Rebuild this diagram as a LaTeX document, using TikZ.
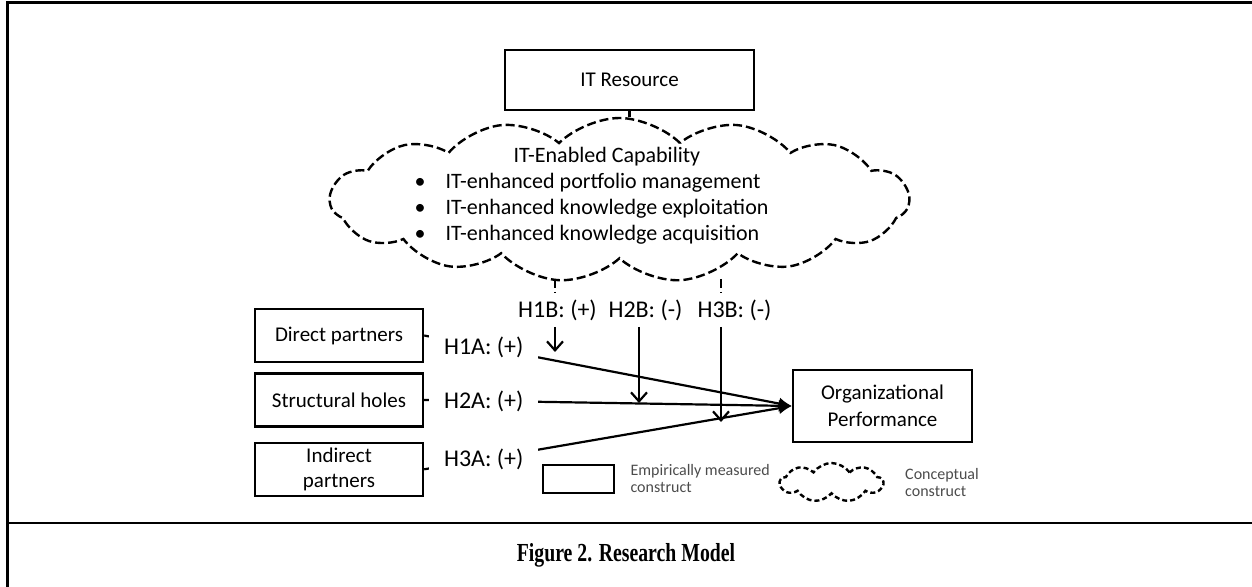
\documentclass[tikz,border=0pt]{standalone}
\usepackage{fontspec}
\setmainfont{Carlito}
\newfontfamily\captionserif[FakeStretch=0.76]{Liberation Serif}
\usepackage{tikz}
\usetikzlibrary{shapes.symbols, arrows.meta, positioning}
\tikzset{
    construct/.style={rectangle, draw, line width=1.2pt, minimum width=84pt, minimum height=26.5pt, inner sep=1pt, align=center, font=\fontsize{10.5}{12.5}\selectfont},
    concept/.style={cloud, draw, line width=1.2pt, dash pattern=on 4.5pt off 2pt, cloud puffs=15, cloud puff arc=90, aspect=3.5},
    hyp/.style={fill=white, inner xsep=2pt, inner ysep=3pt, font=\fontsize{12}{14}\selectfont},
    legendtext/.style={inner sep=0pt, align=left, text=black!70, font=\fontsize{8}{8.5}\selectfont}
}

\begin{document}
\begin{tikzpicture}[
    x=0.5pt, y=-0.5pt,
    arrow/.style={-{Latex[length=6.5pt, width=6pt]}, line width=1.1pt},
    modarrow/.style={-{Straight Barb[length=4.5pt, width=8pt]}, line width=1.1pt},
    dashedline/.style={line width=1.2pt, dash pattern=on 4.5pt off 2pt}
]
    \useasboundingbox (0,0) rectangle (1252,587);

    % Frame
    \draw[line width=1.5pt] (1252,3) -- (7,3) -- (7,587);
    \draw[line width=1.1pt] (7,523) -- (1252,523);

    % Resource and capability
    \node[construct, minimum width=124.5pt, minimum height=30pt] (itres) at (629.5,80) {IT Resource};
    \node[concept, minimum width=289.5pt, minimum height=82pt] (itcap) at (619.5,200) {};
    \node[inner sep=0pt, font=\fontsize{11}{13}\selectfont] (captext) at (591.5,196) {%
        \begin{tabular}{@{}l@{\hspace{10pt}}l@{}}
            & \multicolumn{1}{c}{IT-Enabled Capability}\\
            \textbullet & IT-enhanced portfolio management\\
            \textbullet & IT-enhanced knowledge exploitation\\
            \textbullet & IT-enhanced knowledge acquisition
        \end{tabular}};
    \draw[line width=1.2pt] (itres.south) -- (itres.south |- itcap.north);

    % Network positions
    \node[construct] (direct) at (339,335.5) {Direct partners};
    \node[construct, below=4.5pt of direct] (holes) {Structural holes};
    \node[construct, below=7pt of holes] (indirect) {Indirect\\partners};

    % Outcome
    \node[construct, minimum width=89.5pt, minimum height=36pt, font=\fontsize{10.5}{13.5}\selectfont] (perf) at (882.5,406) {Organizational\\Performance};

    % Main effects
    \draw[arrow] (direct.east) -- (perf.west) node[hyp, inner xsep=7.5pt, pos=0.162] (h1a) {H1A: (+)};
    \draw[arrow] (holes.east) -- (perf.west) node[hyp, inner xsep=7.5pt, pos=0.162] (h2a) {H2A: (+)};
    \draw[arrow] (indirect.east) -- (perf.west) node[hyp, inner xsep=7.5pt, pos=0.162] (h3a) {H3A: (+)};

    % Moderating effects
    \node[hyp] (h1b) at (557.5,310) {H1B: (+)};
    \node[hyp] (h2b) at (645.5,310) {H2B: (-)};
    \node[hyp] (h3b) at (734.5,310) {H3B: (-)};
    \coordinate (c1) at (555,279);
    \coordinate (c3) at (721,279);
    \coordinate (m1) at (555,352);
    \coordinate (m2) at (639,403);
    \coordinate (m3) at (721,422);
    \draw[dashedline] (c1) -- (h1b.north -| c1);
    \draw[dashedline] (c3) -- (h3b.north -| c3);
    \draw[modarrow] (h1b.south -| m1) -- (m1);
    \draw[modarrow] (h2b.south -| m2) -- (m2);
    \draw[modarrow] (h3b.south -| m3) -- (m3);

    % Legend
    \node[construct, minimum width=35.5pt, minimum height=14pt] (legbox) at (578.5,479) {};
    \node[legendtext, right=7.5pt of legbox] (legboxtext) {Empirically measured\\construct};
    \node[concept, cloud puffs=9, cloud puff arc=110, aspect=2.6, minimum width=51.5pt, minimum height=19.5pt, dash pattern=on 2.5pt off 1.5pt] (legcloud) at (831.5,482.5) {};
    \node[legendtext, right=10pt of legcloud] (legcloudtext) {Conceptual\\construct};

    % Caption
    \node[font=\captionserif\bfseries\fontsize{13}{15}\selectfont] (caption) at (626,555) {Figure 2. Research Model};

\end{tikzpicture}
\end{document}
